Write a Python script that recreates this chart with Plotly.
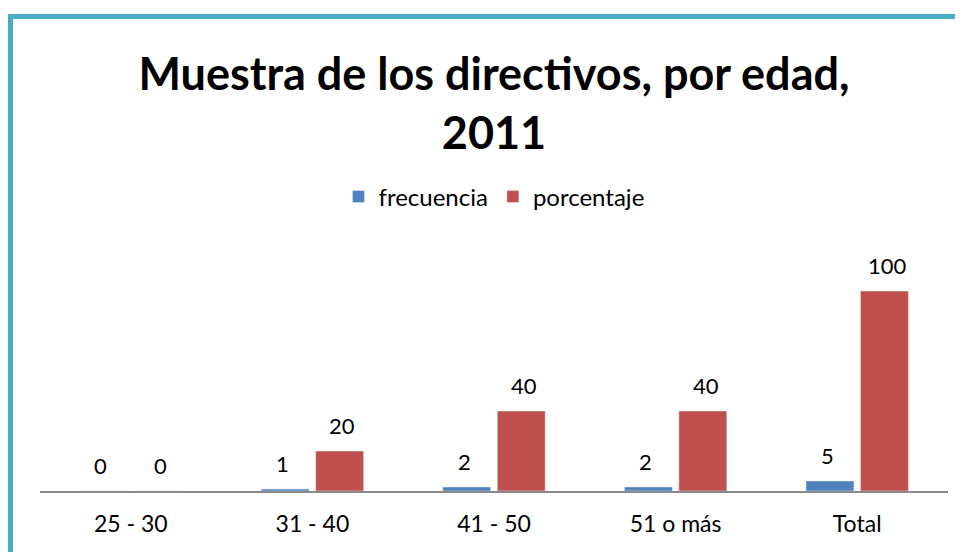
import plotly.graph_objects as go

# Datos: muestra de los directivos por edad (2011)
categorias = ["25 - 30", "31 - 40", "41 - 50", "51 o más", "Total"]
frecuencia = [0, 1, 2, 2, 5]
porcentaje = [0, 20, 40, 40, 100]

AZUL = "#4F81BD"
ROJO = "#C0504D"
FUENTE = "Lato"

# la página tiene 8 px de margen, la figura se hace 8 px más pequeña
W, H = 955, 544
ML, MR, MT, MB = 32, 15, 263, 61
Y_MAX = 110

fig = go.Figure()
fig.add_trace(go.Bar(name="frecuencia", x=categorias, y=frecuencia, marker_color=AZUL))
fig.add_trace(go.Bar(name="porcentaje", x=categorias, y=porcentaje, marker_color=ROJO))

# etiquetas de valor encima de cada barra
anots = []
for serie, desplaz in [(frecuencia, -30), (porcentaje, 30)]:
    for cat, v in zip(categorias, serie):
        anots.append(dict(x=cat, y=v, text=str(v), showarrow=False,
                          xshift=desplaz, yshift=26, yanchor="middle",
                          font=dict(family=FUENTE, size=22, color="#000")))

# marco turquesa (coordenadas en píxeles -> paper)
pw, ph = W - ML - MR, H - MT - MB
def px_x(p):
    return (p - ML) / pw
def px_y(p):
    return (H - MB - p) / ph

fig.update_layout(
    width=W, height=H,
    margin=dict(l=ML, r=MR, t=MT, b=MB),
    paper_bgcolor="white", plot_bgcolor="white",
    barmode="group", bargap=0.4, bargroupgap=0.12,
    title=dict(text="<b>Muestra de los directivos, por edad,<br>2011</b>",
               x=0.5, xref="paper", xanchor="center",
               y=1 - 82 / H, yref="container", yanchor="middle",
               font=dict(family=FUENTE, size=45, color="#000")),
    legend=dict(orientation="h", x=0.5, xanchor="center", y=px_y(189), yanchor="middle",
                font=dict(family=FUENTE, size=24, color="#000")),
    xaxis=dict(showline=True, linecolor="#898989", linewidth=1.5, ticks="",
               ticklabelstandoff=12,
               tickfont=dict(family=FUENTE, size=23, color="#000"), showgrid=False),
    yaxis=dict(range=[0, Y_MAX], visible=False),
    annotations=anots,
    shapes=[dict(type="rect", xref="paper", yref="paper",
                 x0=px_x(2.5), x1=px_x(W + 20), y0=px_y(8.5), y1=px_y(H + 20),
                 line=dict(color="#4BACC6", width=5), layer="above")],
)

fig.write_html("out.html")
